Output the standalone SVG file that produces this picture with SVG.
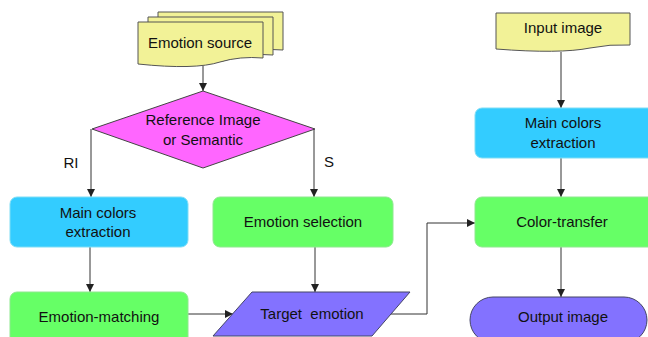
<svg xmlns="http://www.w3.org/2000/svg" width="648" height="337" viewBox="0 0 648 337">
  <style>
    .lbl { font-family: "Liberation Sans", Arial, sans-serif; font-size: 15px; fill: #111111; text-anchor: middle; }
    .doc { fill: #F2F297; stroke: #555555; stroke-width: 1; }
    .green { fill: #66FF66; stroke: #8EE88E; stroke-width: 1; }
    .blue { fill: #33CCFF; stroke: #7FDDF5; stroke-width: 1; }
    .purple { fill: #8372FF; stroke: #444466; stroke-width: 1; }
    .diamond { fill: #FF66FF; stroke: #444444; stroke-width: 1; }
    .conn { fill: none; stroke: #333333; stroke-width: 1; marker-end: url(#arrow); }
  </style>
  <defs>
    <marker id="arrow" viewBox="0 0 8 8" refX="8" refY="4" markerWidth="8" markerHeight="8" markerUnits="userSpaceOnUse" orient="auto">
      <path d="M0,0 L8,4 L0,8 Z" fill="#222222"/>
    </marker>
  </defs>
  <rect width="648" height="337" fill="#FFFFFF"/>

  <g id="connectors">
    <path class="conn" d="M203,66 V91"/>
    <path class="conn" d="M91,129 V197"/>
    <path class="conn" d="M314,129 V197"/>
    <path class="conn" d="M90,247 V292"/>
    <path class="conn" d="M315,247 V292"/>
    <path class="conn" d="M188,314 H233"/>
    <path class="conn" d="M390,314 H427 V223 H475"/>
    <path class="conn" d="M561,52 V108"/>
    <path class="conn" d="M561,158 V197"/>
    <path class="conn" d="M561,247 V297"/>
  </g>

  <g id="emotion-source">
    <path class="doc" d="M158,12 H283 V50 Q260,48 240,54 Q215,62 158,58 Z"/>
    <path class="doc" d="M148,17 H273 V55 Q250,53 230,59 Q205,67 148,63 Z"/>
    <path class="doc" d="M138,22 H263 V58 Q240,56 220,62 Q195,70 138,64 Z"/>
    <text class="lbl" x="200" y="48">Emotion source</text>
  </g>

  <g id="decision">
    <path class="diamond" d="M203,91 L315,129 L203,168 L92,129 Z"/>
    <text class="lbl" x="203" y="125">Reference Image</text>
    <text class="lbl" x="203" y="145">or Semantic</text>
  </g>

  <g id="label-ri"><text class="lbl" x="71" y="168">RI</text></g>
  <g id="label-s"><text class="lbl" x="329" y="167">S</text></g>

  <g id="main-colors-left">
    <rect class="blue" x="10" y="197" width="178" height="50" rx="7"/>
    <text class="lbl" x="98" y="218">Main colors</text>
    <text class="lbl" x="98" y="237">extraction</text>
  </g>

  <g id="emotion-selection">
    <rect class="green" x="213" y="197" width="180" height="50" rx="7"/>
    <text class="lbl" x="303" y="227">Emotion selection</text>
  </g>

  <g id="emotion-matching">
    <rect class="green" x="10" y="292" width="178" height="54" rx="7"/>
    <text class="lbl" x="99" y="322">Emotion-matching</text>
  </g>

  <g id="target-emotion">
    <path class="purple" d="M252,292 H410 L372,336 H213 Z"/>
    <text class="lbl" x="312" y="319" xml:space="preserve">Target  emotion</text>
  </g>

  <g id="input-image">
    <path class="doc" d="M496,13 H630 V45 Q610,44 590,48 Q560,54 496,49 Z"/>
    <text class="lbl" x="563" y="33">Input image</text>
  </g>

  <g id="main-colors-right">
    <rect class="blue" x="475" y="108" width="180" height="50" rx="7"/>
    <text class="lbl" x="563" y="128">Main colors</text>
    <text class="lbl" x="563" y="148">extraction</text>
  </g>

  <g id="color-transfer">
    <rect class="green" x="475" y="197" width="180" height="50" rx="7"/>
    <text class="lbl" x="562" y="227">Color-transfer</text>
  </g>

  <g id="output-image">
    <rect class="purple" x="470" y="297" width="177" height="46" rx="23"/>
    <text class="lbl" x="563" y="322">Output image</text>
  </g>
</svg>
